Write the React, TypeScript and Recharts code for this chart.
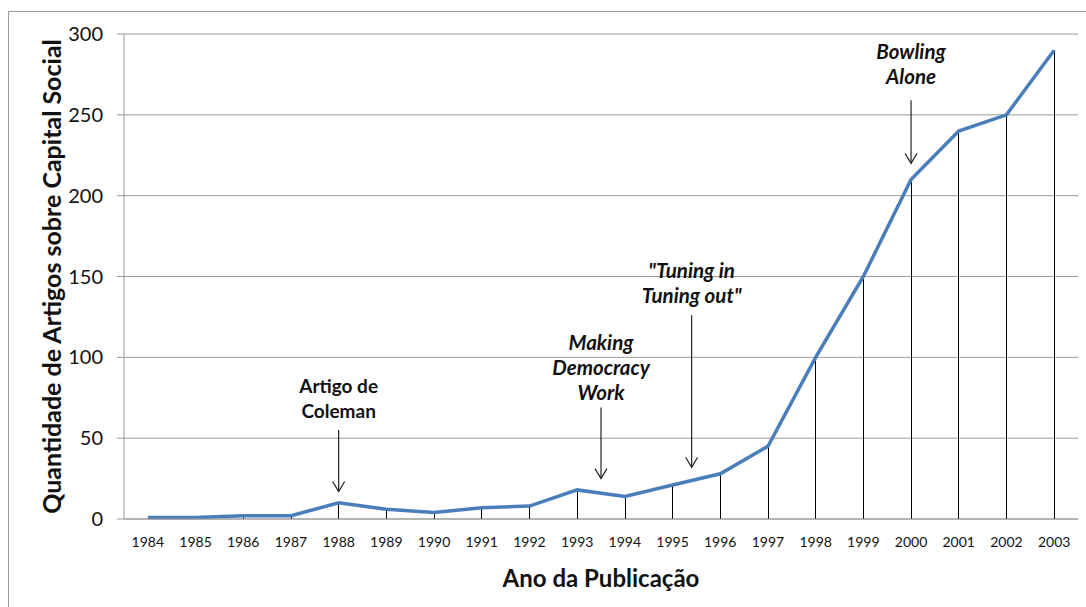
import React from 'react';
import {
  ComposedChart,
  Line,
  Bar,
  XAxis,
  YAxis,
  CartesianGrid,
  ReferenceLine,
} from 'recharts';

const years = [1984, 1985, 1986, 1987, 1988, 1989, 1990, 1991, 1992, 1993, 1994, 1995, 1996, 1997, 1998, 1999, 2000, 2001, 2002, 2003];
const articles = [1, 1, 2, 2, 10, 6, 4, 7, 8, 18, 14, 21, 28, 45, 100, 150, 210, 240, 250, 290];
const yTicks = [0, 50, 100, 150, 200, 250, 300];

// arrow notes: x (year), arrow from / to (articles), text lines
const notes = [
  { x: 1988, from: 55, to: 17, lines: ['Artigo de', 'Coleman'], italic: false, gap: 20 },
  { x: 1993.5, from: 69, to: 25, lines: ['Making', 'Democracy', 'Work'], italic: true, gap: 15 },
  { x: 1995.4, from: 126, to: 32, lines: ['"Tuning in', 'Tuning out"'], italic: true, gap: 20 },
  { x: 2000, from: 259, to: 220, lines: ['Bowling', 'Alone'], italic: true, gap: 24 },
];

const data = years.map((year, i) => ({ year, value: articles[i] }));

const FONT = 'Lato, "Open Sans", sans-serif';

const arrowShape = (note: (typeof notes)[number]) => (props: any) => {
  const { x1, y1, y2 } = props;
  const lh = 25;
  const n = note.lines.length;
  return (
    <g>
      <line x1={x1} y1={y1} x2={x1} y2={y2} stroke="#222" strokeWidth={1.2} />
      <polyline
        points={`${x1 - 6},${y2 - 10} ${x1},${y2} ${x1 + 6},${y2 - 10}`}
        fill="none"
        stroke="#222"
        strokeWidth={1.2}
      />
      {note.lines.map((t, i) => (
        <text
          key={t}
          x={x1}
          y={y1 - note.gap - (n - 1 - i) * lh}
          textAnchor="middle"
          dominantBaseline="central"
          fontFamily={FONT}
          fontSize={note.italic ? 20.5 : 19}
          fontWeight="bold"
          fontStyle={note.italic ? 'italic' : 'normal'}
          fill="#111"
        >
          {t}
        </text>
      ))}
    </g>
  );
};

const dropLine = (props: any) => {
  const { x, y, width, height } = props;
  const cx = Math.round(x + width / 2) + 0.5;
  return <line x1={cx} y1={y} x2={cx} y2={y + height} stroke="#000" strokeWidth={1} />;
};

export default function App() {
  return (
    <div style={{ position: 'absolute', left: 0, top: 0, width: 1086, height: 607, overflow: 'hidden', background: '#fff' }}>
      <div
        style={{
          position: 'absolute',
          left: 8,
          top: 11,
          width: 1100,
          height: 620,
          border: '1px solid #9a9a9a',
        }}
      />
      <div style={{ position: 'absolute', left: 0, top: 0 }}>
        <ComposedChart
          width={1086}
          height={607}
          data={data}
          margin={{ top: 34, right: 8, bottom: 48, left: 44 }}
        >
          <CartesianGrid vertical={false} stroke="#9a9a9a" strokeWidth={1} />
          <XAxis
            dataKey="year"
            type="number"
            domain={[1983.5, 2003.5]}
            ticks={years}
            interval={0}
            tickLine={false}
            axisLine={{ stroke: '#9a9a9a' }}
            tick={{ fill: '#111', fontSize: 14, fontFamily: FONT }}
            tickMargin={12}
            height={40}
            label={{
              content: ({ viewBox }: any) => (
                <text
                  x={viewBox.x + viewBox.width / 2}
                  y={viewBox.y + 58}
                  textAnchor="middle"
                  dominantBaseline="central"
                  fontFamily={FONT}
                  fontSize={24}
                  fontWeight="bold"
                  fill="#111"
                >
                  Ano da Publicação
                </text>
              ),
            }}
          />
          <YAxis
            type="number"
            domain={[0, 300]}
            ticks={yTicks}
            width={80}
            tickSize={7}
            tickMargin={14}
            tickLine={{ stroke: '#9a9a9a' }}
            axisLine={{ stroke: '#9a9a9a' }}
            tick={{ fill: '#111', fontSize: 20, fontFamily: FONT }}
            label={{
              content: ({ viewBox }: any) => (
                <text
                  x={viewBox.x + 7}
                  y={viewBox.y + viewBox.height / 2}
                  transform={`rotate(-90, ${viewBox.x + 7}, ${viewBox.y + viewBox.height / 2})`}
                  textAnchor="middle"
                  dominantBaseline="central"
                  fontFamily={FONT}
                  fontSize={25}
                  fontWeight="bold"
                  fill="#111"
                >
                  Quantidade de Artigos sobre Capital Social
                </text>
              ),
            }}
          />
          <Bar dataKey="value" barSize={1} shape={dropLine} isAnimationActive={false} />
          <Line
            type="linear"
            dataKey="value"
            stroke="#4A7EBB"
            strokeWidth={3.5}
            dot={false}
            isAnimationActive={false}
          />
          {notes.map((note) => (
            <ReferenceLine
              key={note.lines.join(' ')}
              segment={[
                { x: note.x, y: note.from },
                { x: note.x, y: note.to },
              ]}
              shape={arrowShape(note)}
            />
          ))}
        </ComposedChart>
      </div>
    </div>
  );
}
